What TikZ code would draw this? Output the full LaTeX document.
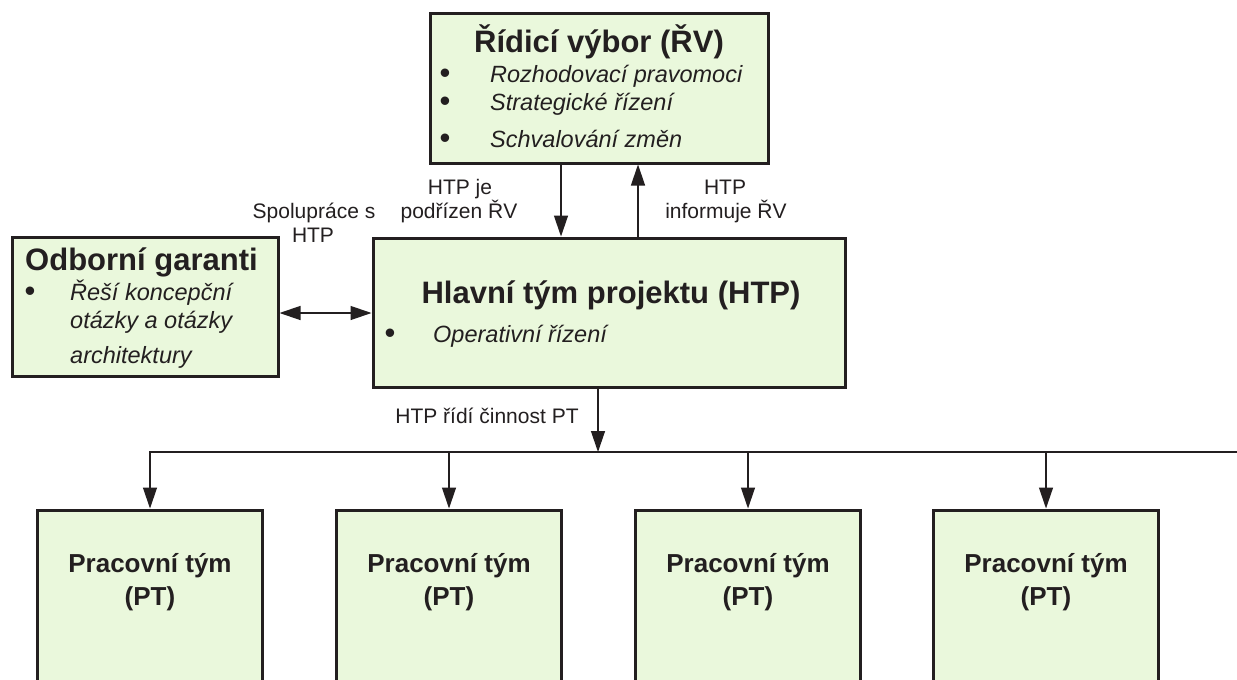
\documentclass[tikz,border=0pt]{standalone}
\usepackage{fontspec}
\setmainfont{Liberation Sans}
\usetikzlibrary{arrows.meta}
\definecolor{boxfill}{HTML}{EAF8DC}
\definecolor{ink}{HTML}{231F20}
\tikzset{
  box/.style={draw=ink, line width=3pt, fill=boxfill, rectangle, inner sep=0pt},
  conn/.style={draw=ink, line width=1.3pt},
  tip/.tip={Triangle[length=21pt 0 0,width=14pt 0 0]},
  arr/.style={conn, -tip},
  darr/.style={conn, tip-tip},
  title/.style={inner sep=0pt, anchor=base, text=ink, font=\fontsize{31}{37}\selectfont\bfseries},
  item/.style={inner sep=0pt, anchor=base west, text=ink, font=\fontsize{23.5}{28}\selectfont\itshape},
  bul/.style={inner sep=0pt, anchor=base, text=ink, font=\fontsize{31}{37}\selectfont},
  lab/.style={inner sep=0pt, anchor=base, text=ink, font=\fontsize{21}{25}\selectfont},
  ptlab/.style={inner sep=0pt, anchor=base, text=ink, font=\fontsize{26}{31}\selectfont\bfseries},
}
\begin{document}
\begin{tikzpicture}[x=1pt,y=-1pt]
\useasboundingbox (0,0) rectangle (1237,680);
\clip (0,0) rectangle (1237,680);
\fill[white] (0,0) rectangle (1237,680);

% boxes
\node[box, minimum width=338pt, minimum height=150pt] (top) at (599,88) {};
\node[box, minimum width=472pt, minimum height=149pt] (mid) at (609,312.5) {};
\node[box, minimum width=266pt, minimum height=139pt] (left) at (145,306.5) {};
\node[box, minimum width=225pt, minimum height=200pt] (pt1) at (150,610) {};
\node[box, minimum width=225pt, minimum height=200pt] (pt2) at (449,610) {};
\node[box, minimum width=225pt, minimum height=200pt] (pt3) at (748,610) {};
\node[box, minimum width=225pt, minimum height=200pt] (pt4) at (1046,610) {};

% top box text
\node[title] (toptitle) at (599,52) {Řídicí výbor (ŘV)};
\node[bul] (tb1) at (445,83) {•};
\node[item] (ti1) at (490,82) {Rozhodovací pravomoci};
\node[bul] (tb2) at (445,111) {•};
\node[item] (ti2) at (490,110) {Strategické řízení};
\node[bul] (tb3) at (445,148) {•};
\node[item] (ti3) at (490,147) {Schvalování změn};

% middle box text
\node[title] (midtitle) at (611,303) {Hlavní tým projektu (HTP)};
\node[bul] (mb1) at (390,343) {•};
\node[item] (mi1) at (433,342) {Operativní řízení};

% left box text
\node[title, anchor=base west] (lefttitle) at (25,270) {Odborní garanti};
\node[bul] (lb1) at (30,301) {•};
\node[item] (li1) at (70,300) {Řeší koncepční};
\node[item] (li2) at (70,328) {otázky a otázky};
\node[item] (li3) at (70,363) {architektury};

% PT texts
\foreach \i/\x in {1/150,2/449,3/748,4/1046}{
  \node[ptlab] (pta\i) at (\x,572) {Pracovní tým};
  \node[ptlab] (ptb\i) at (\x,605) {(PT)};
}

% labels
\node[lab] (l1a) at (460,194) {HTP je};
\node[lab] (l1b) at (459,218) {podřízen ŘV};
\node[lab] (l2a) at (725,194) {HTP};
\node[lab] (l2b) at (726,218) {informuje ŘV};
\node[lab] (l3a) at (314,218) {Spolupráce s};
\node[lab] (l3b) at (313,242) {HTP};
\node[lab] (l4) at (487,423) {HTP řídí činnost PT};

% connectors
\coordinate (dx) at (561,0);
\coordinate (ux) at (638,0);
\coordinate (ya) at (0,313);
\coordinate (hx) at (598,452);
\coordinate (busR) at (1237,452);
\coordinate (busL) at (150,452);

\draw[arr] (top.south -| dx) -- (mid.north -| dx);
\draw[arr] (mid.north -| ux) -- (top.south -| ux);
\draw[darr] (left.east |- ya) -- (mid.west |- ya);
\draw[arr] (mid.south -| hx) -- (hx);
\draw[arr] (busR) -- (busL) -- (pt1.north);
\draw[arr] (pt2.north |- busL) -- (pt2.north);
\draw[arr] (pt3.north |- busL) -- (pt3.north);
\draw[arr] (pt4.north |- busL) -- (pt4.north);
\end{tikzpicture}
\end{document}
